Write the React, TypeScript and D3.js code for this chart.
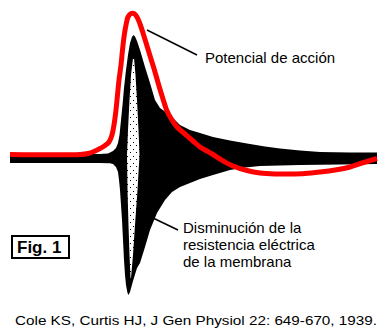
import React from "react";
import * as d3 from "d3";

// time (arbitrary sweep units) and potential (arbitrary units)
const actionPotential: [number, number][] = [
  [0, 2.5], [70, 2.5], [78, 3.5], [84, 5.5], [90, 8.5], [95, 11.5], [99, 15],
  [102, 22], [104, 32], [106, 47], [107.5, 62], [109, 77], [111, 92], [112.5, 107],
  [114, 120], [116, 132], [118, 140], [121, 143.5], [124, 143.5], [127, 140],
  [130, 133], [133, 124], [137, 111], [141, 98], [145, 85], [149, 71], [153, 58],
  [157, 46], [162, 37], [167, 30], [175, 23], [183, 16], [190, 10], [197, 6],
  [203, 2.5], [210, -2], [223, -9], [237, -13.5], [250, -16], [265, -17],
  [280, -17], [295, -16.5], [310, -15], [325, -13], [340, -10], [352, -6],
  [360, -3.5], [367, -1.5],
];

const impedanceUpper: [number, number][] = [
  [0, 3], [90, 3], [98, 3.5], [103, 6], [106, 9], [108, 14], [109.5, 22], [111, 37],
  [112.5, 52], [114, 69], [116, 87], [118, 102], [120, 114], [122, 120], [123.5, 122],
  [125, 120.5], [127, 116], [130, 107], [135, 90], [140, 74], [145, 57], [150, 49],
  [157, 44], [164, 38], [170, 32], [180, 27], [190, 24], [203, 20], [220, 16.5],
  [237, 13.5], [255, 10.5], [270, 8.5], [290, 6.5], [310, 5], [340, 4.5], [367, 4.5],
];

const impedanceLower: [number, number][] = [
  [0, -6], [90, -6], [100, -6.3], [103, -7], [106, -10], [108, -15], [109, -23],
  [110, -33], [111, -48], [112, -63], [113, -83], [114, -103], [115, -118],
  [116, -128], [117.5, -136], [118.5, -138], [120, -135], [123, -124], [127, -111],
  [130, -106], [135, -90], [140, -73], [147, -56], [155, -43], [162, -35],
  [170, -30], [180, -26], [190, -22], [203, -18], [220, -13], [235, -10.5],
  [250, -9], [290, -8], [330, -7.5], [367, -7],
];

const sliverLeft: [number, number][] = [
  [123, 99], [121, 82], [119.5, 57], [118, 27], [117, 2], [117.5, -33],
  [118.5, -68], [119.5, -98], [120.5, -121],
];
const sliverRight: [number, number][] = [
  [121, -121], [123, -98], [125, -68], [127.5, -33], [129.5, 2], [128.5, 27],
  [127, 57], [125.5, 82], [124, 99],
];

const labelAP = "Potencial de acción";
const labelImp = ["Disminución de la", "resistencia eléctrica", "de la membrana"];
const figLabel = "Fig. 1";
const citation = "Cole KS, Curtis HJ, J Gen Physiol 22: 649-670, 1939.";

export default function App() {
  const W = 389, H = 336;
  const x = d3.scaleLinear().domain([0, 368]).range([10, 378]);
  const y = d3.scaleLinear().domain([-150, 150]).range([307, 7]);

  const poly = d3
    .line<[number, number]>()
    .x((d) => x(d[0]))
    .y((d) => y(d[1]))
    .curve(d3.curveLinearClosed);

  const blackPath = poly([...impedanceUpper, ...impedanceLower.slice().reverse()]) || "";
  const sliverPath = poly([...sliverLeft, ...sliverRight]) || "";

  const redPath =
    d3
      .line<[number, number]>()
      .x((d) => x(d[0]))
      .y((d) => y(d[1]))
      .curve(d3.curveCatmullRom.alpha(0.5))(actionPotential) || "";

  const font = "'Liberation Sans', Arial, Helvetica, sans-serif";

  return (
    <svg
      width={W}
      height={H}
      viewBox={`0 0 ${W} ${H}`}
      style={{ position: "absolute", left: 0, top: 0, background: "#fff" }}
    >
      <defs>
        <pattern id="speck" width="6" height="7" patternUnits="userSpaceOnUse">
          <rect width="6" height="7" fill="#fff" />
          <rect x="1" y="2" width="1" height="1" fill="#000" />
          <rect x="4" y="5" width="1" height="1" fill="#000" />
        </pattern>
      </defs>
      <rect width={W} height={H} fill="#fff" />
      <path d={blackPath} fill="#000" />
      <path d={sliverPath} fill="url(#speck)" />
      <path d={redPath} fill="none" stroke="#ff0000" strokeWidth={5} strokeLinejoin="round" />

      <line x1={147} y1={30} x2={197} y2={55} stroke="#000" strokeWidth={1.5} />
      <text x={205} y={63} fontFamily={font} fontSize={15} fill="#000">
        {labelAP}
      </text>

      <line x1={153} y1={218} x2={178} y2={230} stroke="#000" strokeWidth={1.5} />
      {labelImp.map((t, i) => (
        <text key={i} x={183} y={233 + i * 17} fontFamily={font} fontSize={15} fill="#000">
          {t}
        </text>
      ))}

      <rect x={12} y={236} width={57} height={22} fill="#fff" stroke="#000" strokeWidth={2} />
      <text x={17} y={253} fontFamily={font} fontSize={17} fontWeight="bold" fill="#000">
        {figLabel}
      </text>

      <text
        x={15}
        y={325}
        fontFamily={font}
        fontSize={13}
        fill="#000"
        textLength={362}
        lengthAdjust="spacingAndGlyphs"
      >
        {citation}
      </text>
    </svg>
  );
}
